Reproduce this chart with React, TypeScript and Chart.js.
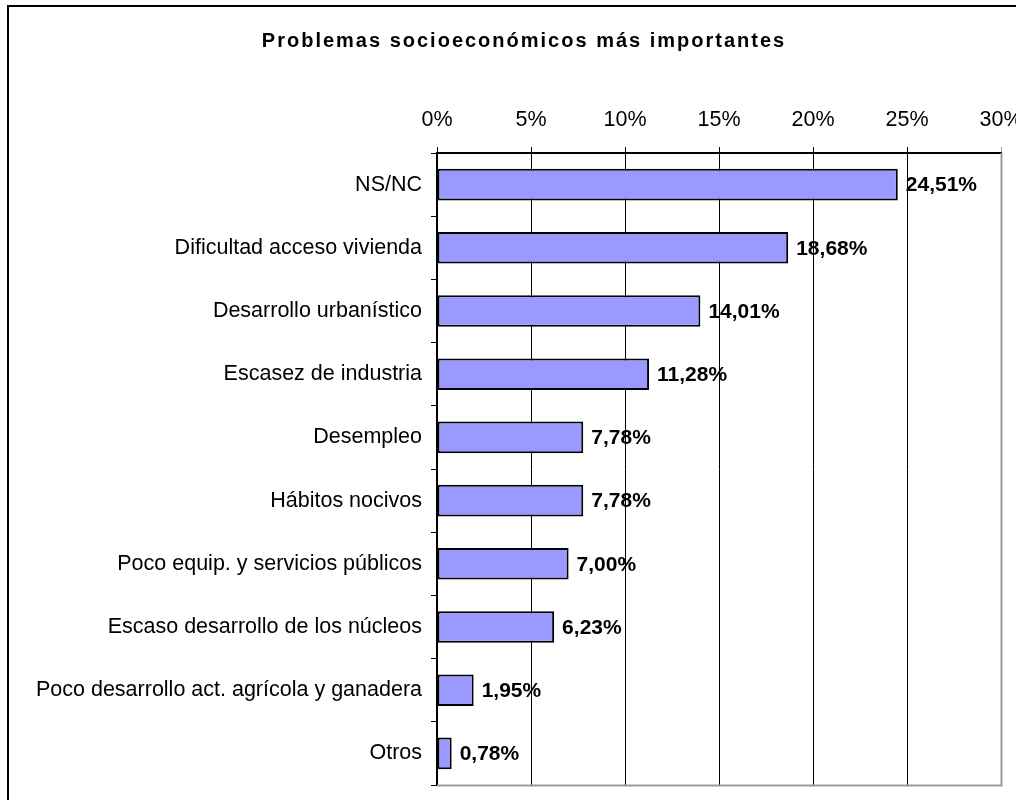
import React, { useEffect, useRef } from "react";
import { Chart, registerables } from "chart.js";

Chart.register(...registerables);

const TITLE = "Problemas socioeconómicos más importantes";
const categories = [
  "NS/NC",
  "Dificultad acceso vivienda",
  "Desarrollo urbanístico",
  "Escasez de industria",
  "Desempleo",
  "Hábitos nocivos",
  "Poco equip. y servicios públicos",
  "Escaso desarrollo de los núcleos",
  "Poco desarrollo act. agrícola y ganadera",
  "Otros",
];
const values = [24.51, 18.68, 14.01, 11.28, 7.78, 7.78, 7.0, 6.23, 1.95, 0.78];
const xTicks = [0, 5, 10, 15, 20, 25, 30];

const FONT = "'Liberation Sans', Arial, sans-serif";

const decorPlugin = {
  id: "decor",
  beforeDraw(chart: any) {
    const ctx = chart.ctx;
    ctx.save();
    ctx.fillStyle = "#ffffff";
    ctx.fillRect(0, 0, chart.width, chart.height);
    ctx.strokeStyle = "#000000";
    ctx.lineWidth = 2;
    ctx.strokeRect(8, 6, 3000, 3000);
    ctx.fillStyle = "#000000";
    ctx.font = `bold 20px ${FONT}`;
    ctx.textAlign = "center";
    ctx.textBaseline = "alphabetic";
    try {
      (ctx as any).letterSpacing = "2px";
    } catch (e) {}
    ctx.fillText(TITLE, 524, 47);
    ctx.restore();
  },
  afterDraw(chart: any) {
    const ctx = chart.ctx;
    const a = chart.chartArea;
    ctx.save();
    ctx.strokeStyle = "#999999";
    ctx.lineWidth = 2;
    ctx.beginPath();
    ctx.moveTo(a.left, a.bottom + 0.5);
    ctx.lineTo(a.right + 0.5, a.bottom + 0.5);
    ctx.lineTo(a.right + 0.5, a.top);
    ctx.stroke();
    ctx.restore();
  },
  afterDatasetsDraw(chart: any) {
    const ctx = chart.ctx;
    const meta = chart.getDatasetMeta(0);
    ctx.save();
    ctx.fillStyle = "#000000";
    ctx.font = `bold 21px ${FONT}`;
    ctx.textAlign = "left";
    ctx.textBaseline = "middle";
    meta.data.forEach((bar: any, i: number) => {
      const v = values[i];
      const txt = v.toFixed(2).replace(".", ",") + "%";
      ctx.fillText(txt, bar.x + 8, bar.y + 1);
    });
    ctx.restore();
  },
};

export default function App() {
  const ref = useRef<HTMLCanvasElement | null>(null);
  useEffect(() => {
    if (!ref.current) return;
    const chart = new Chart(ref.current, {
      type: "bar",
      data: {
        labels: categories,
        datasets: [
          {
            data: values,
            backgroundColor: "#9999FF",
            borderColor: "#000000",
            borderWidth: 2,
            borderSkipped: false,
            categoryPercentage: 0.5,
            barPercentage: 1,
          },
        ],
      },
      options: {
        indexAxis: "y",
        animation: false,
        responsive: false,
        maintainAspectRatio: false,
        events: [],
        layout: { padding: { top: 103, right: 15, bottom: 15, left: 0 } },
        plugins: {
          legend: { display: false },
          title: { display: false },
          tooltip: { enabled: false },
        },
        scales: {
          x: {
            position: "top",
            min: 0,
            max: 30,
            afterBuildTicks: (scale: any) => {
              scale.ticks = xTicks.map((v) => ({ value: v }));
            },
            afterFit: (scale: any) => {
              scale.height = 50;
              scale.paddingLeft = 0;
              scale.paddingRight = 0;
            },
            ticks: {
              color: "#000000",
              font: { family: FONT, size: 21.5 },
              padding: 14,
              maxRotation: 0,
              callback: (v: any) => v + "%",
            },
            grid: {
              color: (c: any) => (c.tick && c.tick.value === 30 ? "#999999" : "#000000"),
              lineWidth: 1,
              tickLength: 6,
              drawTicks: true,
            },
            border: { display: true, color: "#000000", width: 2 },
          },
          y: {
            afterFit: (scale: any) => {
              scale.width = 437;
              scale.paddingTop = 0;
              scale.paddingBottom = 0;
            },
            ticks: {
              color: "#000000",
              font: { family: FONT, size: 21.5 },
              padding: 9,
            },
            grid: {
              offset: true,
              drawOnChartArea: false,
              drawTicks: true,
              tickLength: 6,
              color: "#000000",
            },
            border: { display: true, color: "#000000", width: 2 },
          },
        },
      },
      plugins: [decorPlugin],
    });
    return () => chart.destroy();
  }, []);
  return (
    <div style={{ position: "fixed", left: 0, top: 0, width: 1016, height: 800, background: "#fff" }}>
      <canvas ref={ref} width={1016} height={800} style={{ display: "block", width: 1016, height: 800 }} />
    </div>
  );
}
